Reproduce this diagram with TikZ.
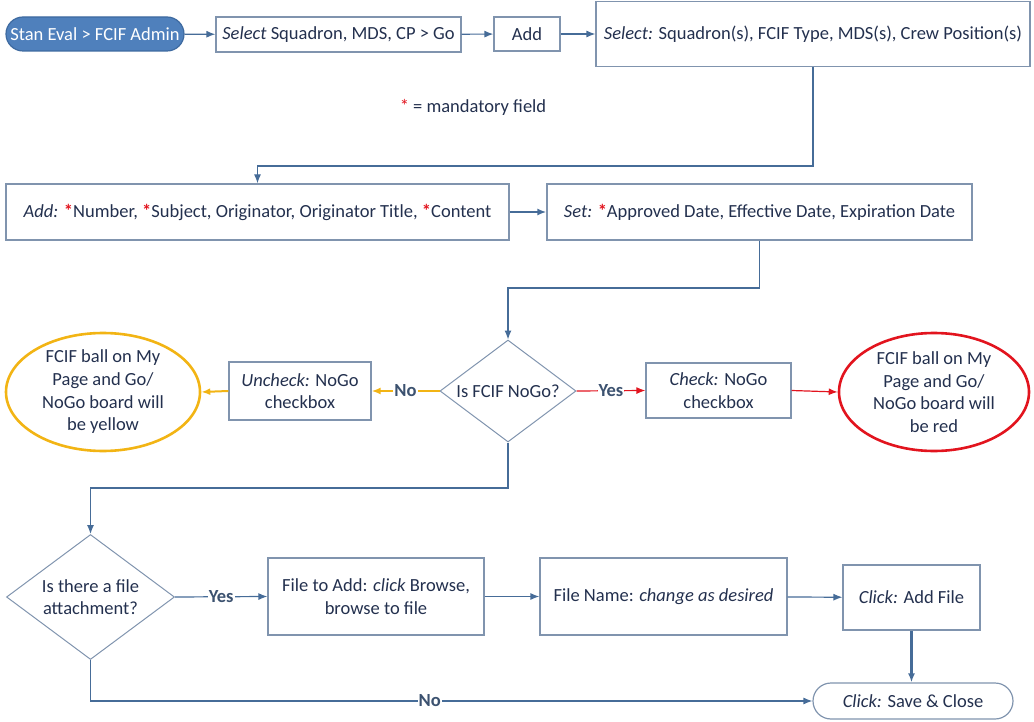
\documentclass[tikz,border=0pt]{standalone}
\usepackage{fontspec}
\setmainfont{Carlito}
\usepackage{tikz}
\usetikzlibrary{arrows.meta, shapes.geometric, positioning}

\definecolor{flowblue}{RGB}{79,128,188}
\definecolor{flowdark}{RGB}{62,106,160}
\definecolor{boxline}{RGB}{128,148,174}
\definecolor{arrowblue}{RGB}{70,108,152}
\definecolor{txt}{RGB}{35,48,78}
\definecolor{lbl}{RGB}{60,82,112}
\definecolor{ylw}{RGB}{242,180,20}
\definecolor{nored}{RGB}{226,20,30}

\newcommand{\req}{\textcolor{nored}{\textbf{*}}}

\begin{document}
\begin{tikzpicture}[
            x = 1pt, y = -1pt, % pixel grid, y down
            > = {Latex[length=9pt, width=7pt]}, % arrow head style
            font = \fontsize{18.5}{22.7}\selectfont,
            text = txt
        ]

        \tikzstyle{box}=[
            draw = boxline,
            line width = 1.2pt,
            rectangle,
            inner sep = 0pt,
            align = center
        ]
        \tikzstyle{decision}=[box, diamond, line width = 1pt]
        \tikzstyle{ball}=[ellipse, inner sep = 0pt, line width = 2.6pt]
        \tikzstyle{flow}=[->, draw = arrowblue, line width = 1.2pt]
        \tikzstyle{yflow}=[->, draw = ylw, line width = 2pt]
        \tikzstyle{rflow}=[->, draw = nored, line width = 1.2pt]
        \tikzstyle{yesno}=[fill = white, inner sep = 1pt, text = lbl, font = \fontsize{18.5}{22.7}\selectfont\bfseries]

        \useasboundingbox (0,0) rectangle (1034,722);

        % top row
        \node[box, rounded corners = 17pt, fill = flowblue, draw = flowdark, text = white,
            minimum width = 178pt, minimum height = 34pt] (start) at (95,34) {Stan Eval > FCIF Admin};
        \node[box, minimum width = 245pt, minimum height = 35pt] (sel) at (338.5,34.5) {\textit{Select} Squadron, MDS, CP > Go};
        \node[box, minimum width = 66pt, minimum height = 34pt] (add) at (527,34) {Add};
        \node[box, minimum width = 434pt, minimum height = 65pt] (sel2) at (813,34) {\textit{Select:} Squadron(s), FCIF Type, MDS(s), Crew Position(s)};
        \node (note) at (473,107) {\textcolor{nored}{*} = mandatory field};

        % second row
        \node[box, minimum width = 503pt, minimum height = 56pt] (addf) at (257.5,212) {\textit{Add:} \req Number, \req Subject, Originator, Originator Title, \req Content};
        \node[box, minimum width = 425pt, minimum height = 56pt] (setd) at (759.5,212) {\textit{Set:} \req Approved Date, Effective Date, Expiration Date};

        % NoGo row
        \node[decision, minimum width = 136pt, minimum height = 102pt,
            label = {center:{Is FCIF NoGo?}}] (nogo) at (508,391) {};
        \node[box, minimum width = 145pt, minimum height = 55pt] (check) at (718.5,390.5) {\textit{Check:} NoGo\\checkbox};
        \node[ball, draw = nored, minimum width = 190pt, minimum height = 118pt,
            label = {[align = center]center:{FCIF ball on My\\Page and Go/\\NoGo board will\\be red}}] (redball) at (934,392) {};
        \node[box, minimum width = 142pt, minimum height = 58pt] (uncheck) at (300,391) {\textit{Uncheck:} NoGo\\checkbox};
        \node[ball, draw = ylw, minimum width = 194pt, minimum height = 118pt,
            label = {[align = center]center:{FCIF ball on My\\Page and Go/\\NoGo board will\\be yellow}}] (ylwball) at (103,392) {};

        % attachment row
        \node[decision, minimum width = 168pt, minimum height = 125pt,
            label = {[align = center]center:{Is there a file\\attachment?}}] (attach) at (90.5,597) {};
        \node[box, minimum width = 216pt, minimum height = 77pt] (browse) at (376,596.5) {File to Add: \textit{click} Browse,\\browse to file};
        \node[box, minimum width = 247pt, minimum height = 77pt] (fname) at (663.5,596.5) {File Name: \textit{change as desired}};
        \node[box, minimum width = 137pt, minimum height = 65pt] (addfile) at (911.5,597.5) {\textit{Click:} Add File};
        \node[box, rounded corners = 18pt, minimum width = 200pt, minimum height = 36pt] (save) at (913,701) {\textit{Click:} Save \& Close};

        \coordinate (j1) at (257.5,166);
        \coordinate (j2) at (508,288);
        \coordinate (j3) at (90.5,488);

        \draw[flow] (start) -- (sel);
        \draw[flow] (sel) -- (add);
        \draw[flow] (add) -- (sel2);
        \draw[flow] (sel2.south) |- (j1) -- (addf.north);
        \draw[flow, line width = 2.2pt] (addf) -- (setd);
        \draw[flow] (setd.south) |- (j2) -- (nogo.north);
        \draw[yflow] (nogo.west) -- node[yesno] {No} (uncheck.east);
        \draw[yflow] (uncheck.west) -- (ylwball.east);
        \draw[rflow] (nogo.east) -- node[yesno] {Yes} (check.west);
        \draw[rflow] (check.east) -- (redball.west);
        \draw[flow] (nogo.south) |- (j3) -- (attach.north);
        \draw[flow] (attach.east) -- node[yesno] {Yes} (browse.west);
        \draw[flow] (browse) -- (fname);
        \draw[flow] (fname) -- (addfile);
        \draw[flow, line width = 2.2pt] (addfile.south) -- (addfile.south |- save.north);
        \draw[flow] (attach.south) |- node[yesno, pos = 0.735] {No} (save.west);

  \end{tikzpicture}
\end{document}
